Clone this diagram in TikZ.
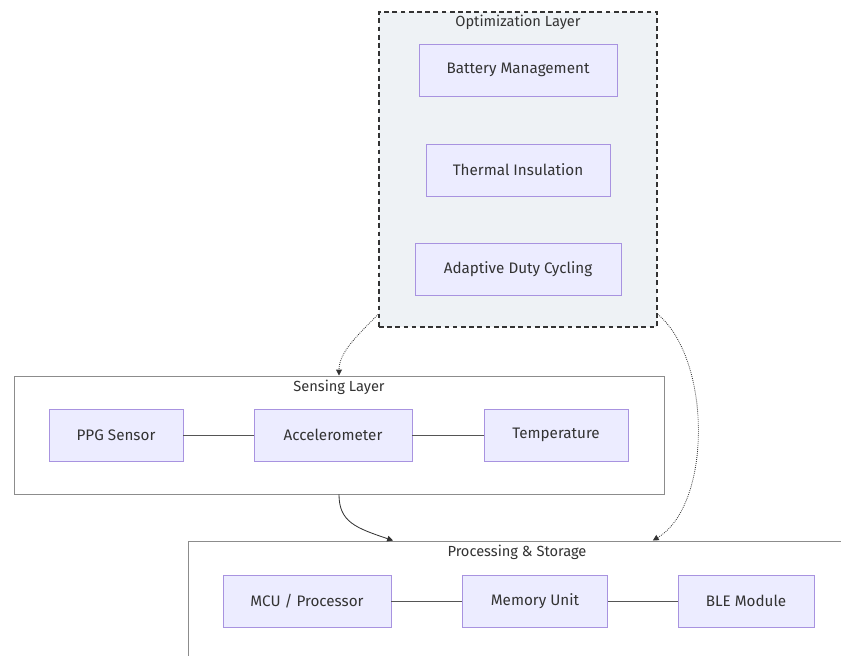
\documentclass[tikz,border=0pt]{standalone}
\usepackage{fontspec}
\setmainfont{Fira Sans}
\usetikzlibrary{arrows.meta}

\definecolor{nodefill}{HTML}{ECECFF}
\definecolor{nodeline}{HTML}{A893E0}
\definecolor{optfill}{HTML}{EEF2F5}
\definecolor{txt}{HTML}{333333}
\definecolor{wire}{HTML}{555555}

\tikzset{
    comp/.style={draw=nodeline, fill=nodefill, line width=0.7pt, text=txt,
        minimum height=1.56cm, inner sep=0pt, font=\fontsize{13}{15}\selectfont},
    layer/.style={draw=gray!90, line width=0.8pt, inner sep=0pt},
    layertitle/.style={text=txt, font=\fontsize{12.5}{15}\selectfont},
    link/.style={draw=wire, line width=0.8pt},
    flow/.style={draw=txt, line width=0.7pt, -{Triangle[length=5pt,width=5pt]}}
}

\begin{document}
\begin{tikzpicture}[x=0.03cm, y=-0.03cm]

    \useasboundingbox (0,0) rectangle (841,656);

    % --- Layers (clusters) ---
    \node[layer, draw=txt, fill=optfill, line width=1.3pt, dash pattern=on 4pt off 3pt,
        minimum width=8.34cm, minimum height=9.45cm] (opt) at (518,169.5) {};
    \node[layer, fill=white, minimum width=19.5cm, minimum height=3.54cm] (sens) at (339,435) {};
    \node[layer, fill=white, minimum width=19.74cm, minimum height=3.6cm] (proc) at (517,601) {};

    \node[layertitle] (optT) at (518,22) {Optimization Layer};
    \node[layertitle] (sensT) at (339,387) {Sensing Layer};
    \node[layertitle] (procT) at (517,552) {Processing \& Storage};

    % --- Optimization Layer ---
    \node[comp, minimum width=5.94cm] (bat) at (518,70) {Battery Management};
    \node[comp, minimum width=5.52cm] (therm) at (518,170) {Thermal Insulation};
    \node[comp, minimum width=6.18cm] (duty) at (518,269) {Adaptive Duty Cycling};

    % --- Sensing Layer ---
    \node[comp, minimum width=4.02cm] (ppg) at (116,435) {PPG Sensor};
    \node[comp, minimum width=4.74cm] (acc) at (333,435) {Accelerometer};
    \node[comp, minimum width=4.32cm] (temp) at (556,435) {Temperature};
    \draw[link] (ppg) -- (acc);
    \draw[link] (acc) -- (temp);

    % --- Processing & Storage ---
    \node[comp, minimum width=5.04cm] (mcu) at (307,601) {MCU / Processor};
    \node[comp, minimum width=4.35cm] (mem) at (535,601) {Memory Unit};
    \node[comp, minimum width=4.08cm] (ble) at (746,601) {BLE Module};
    \draw[link] (mcu) -- (mem);
    \draw[link] (mem) -- (ble);

    % --- Flows between layers ---
    \draw[flow, densely dotted] (opt.226) .. controls (358,335) and (339,352) .. (sens.north);
    \draw[flow, densely dotted] (opt.314) .. controls (712,360) and (712,505) .. (proc.24.3);
    \draw[flow] (sens.south) .. controls (339,522) and (356,528) .. (proc.154.7);

\end{tikzpicture}
\end{document}
